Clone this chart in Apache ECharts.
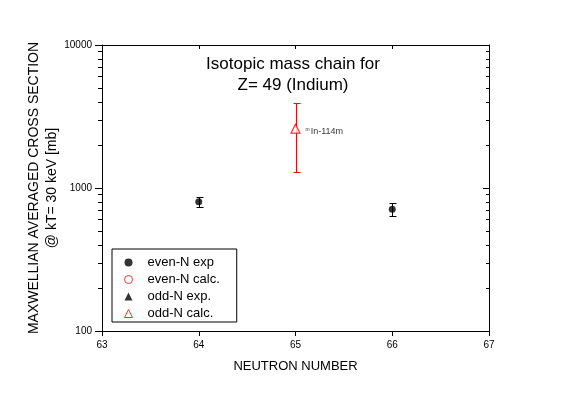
<!DOCTYPE html>
<html>
<head>
<meta charset="utf-8">
<script src="https://cdn.jsdelivr.net/npm/echarts@6/dist/echarts.min.js"></script>
<style>html,body{margin:0;padding:0;background:#fff}#c{width:567px;height:395px}</style>
</head>
<body>
<div id="c"></div>
<script>
// ---- data ----
const titleLines = ['Isotopic mass chain for', 'Z= 49 (Indium)'];
const xTitle = 'NEUTRON NUMBER';
const yTitleLines = ['MAXWELLIAN AVERAGED CROSS SECTION', '@ kT= 30 keV [mb]'];
const legendNames = ['even-N exp', 'even-N calc.', 'odd-N exp.', 'odd-N calc.'];
const evenExpN = [64, 66];
const evenExpVal = [800, 710];
const evenExpErr = [65, 72];
const evenCalcN = [];
const evenCalcVal = [];
const oddExpN = [];
const oddExpVal = [];
const oddCalcN = [65];
const oddCalcVal = [2600];
const oddCalcErr = [1300];
const oddCalcNote = ['In-114m'];
const xTicks = [63, 64, 65, 66, 67];
const yMajor = [100, 1000, 10000];
const yMinor = [200,300,400,500,600,700,800,900,2000,3000,4000,5000,6000,7000,8000,9000];

const FONT = 'Liberation Sans, Arial, sans-serif';
const pts = (xs, ys) => xs.map((x, i) => [x, ys[i]]);
const errs = (xs, ys, es) => xs.map((x, i) => [x, ys[i] - es[i], ys[i] + es[i]]);
const lg = (arr) => arr.map((v) => Math.log10(v));

function errRender(color) {
  return function (params, api) {
    const x = api.value(0);
    const lo = api.coord([x, api.value(1)]);
    const hi = api.coord([x, api.value(2)]);
    const cx = Math.round(lo[0]) + 0.5;
    const yl = Math.round(lo[1]) + 0.5;
    const yh = Math.round(hi[1]) + 0.5;
    const w = 3;
    const st = {stroke: color, lineWidth: 1};
    return {type: 'group', children: [
      {type: 'line', shape: {x1: cx, y1: yl, x2: cx, y2: yh}, style: st},
      {type: 'line', shape: {x1: cx - w, y1: yl, x2: cx + w + 1, y2: yl}, style: st},
      {type: 'line', shape: {x1: cx - w, y1: yh, x2: cx + w + 1, y2: yh}, style: st}
    ]};
  };
}

const chart = echarts.init(document.getElementById('c'), null, {renderer: 'canvas'});
const axisLine = {show: true, lineStyle: {color: '#000', width: 1}};
const yBase = {type: 'log', logBase: 10, min: 100, max: 10000, splitLine: {show: false}};
const yDeco = {type: 'value', min: 2, max: 4, splitLine: {show: false}, axisLabel: {show: false}, axisLine: {show: false}};
chart.setOption({
  animation: false,
  backgroundColor: '#fff',
  textStyle: {fontFamily: FONT},
  title: {
    text: titleLines.join('\n'),
    left: 293, top: 54, textAlign: 'center', padding: 0,
    textStyle: {fontFamily: FONT, fontSize: 17, fontWeight: 'normal', color: '#000', lineHeight: 21}
  },
  legend: {
    orient: 'vertical', left: 112, top: 249,
    padding: [7, 17, 2, 12],
    borderColor: '#000', borderWidth: 1, borderRadius: 0,
    itemWidth: 8, itemHeight: 8, itemGap: 4,
    textStyle: {fontFamily: FONT, fontSize: 13, color: '#000', lineHeight: 13, padding: [0, 0, 0, 10]},
    data: [
      {name: legendNames[0], icon: 'circle', itemStyle: {color: '#000', borderWidth: 0}},
      {name: legendNames[1], icon: 'circle', itemStyle: {color: '#fff', borderColor: '#f00', borderWidth: 1}},
      {name: legendNames[2], icon: 'triangle', itemStyle: {color: '#000', borderWidth: 0}},
      {name: legendNames[3], icon: 'triangle', itemStyle: {color: '#fff', borderColor: '#f00', borderWidth: 1}}
    ]
  },
  grid: {left: 102, right: 78, top: 45, bottom: 64, containLabel: false},
  xAxis: [{
    type: 'value', min: 63, max: 67, interval: 1, position: 'bottom',
    axisLine: axisLine,
    axisTick: {show: true, inside: false, length: 5, lineStyle: {color: '#000'}},
    axisLabel: {show: true, margin: 9, fontFamily: FONT, fontSize: 10, color: '#000'},
    splitLine: {show: false},
    name: xTitle, nameLocation: 'middle', nameGap: 29, nameMoveOverlap: false,
    nameTextStyle: {fontFamily: FONT, fontSize: 13, color: '#000', verticalAlign: 'top'}
  }, {
    type: 'value', min: 63, max: 67, interval: 1, position: 'top',
    axisLine: axisLine,
    axisTick: {show: true, inside: true, length: 4, lineStyle: {color: '#000'}},
    axisLabel: {show: false}, splitLine: {show: false}
  }],
  yAxis: [
    Object.assign({}, yBase, {
      position: 'left',
      axisLine: axisLine,
      axisTick: {show: true, inside: false, length: 7, lineStyle: {color: '#000'}},
      axisLabel: {show: true, margin: 10, fontFamily: FONT, fontSize: 10, color: '#000',
        formatter: (v) => String(Math.round(v))},
      name: yTitleLines.join('\n'), nameLocation: 'middle', nameRotate: 90, nameGap: 41, nameMoveOverlap: false,
      nameTextStyle: {fontFamily: FONT, fontSize: 14, color: '#000', lineHeight: 18}
    }),
    Object.assign({}, yDeco, {
      position: 'left',
      axisTick: {show: true, inside: false, length: 4, customValues: lg(yMinor), lineStyle: {color: '#000'}}
    }),
    Object.assign({}, yBase, {
      position: 'right',
      axisLine: axisLine,
      axisTick: {show: true, inside: true, length: 6, lineStyle: {color: '#000'}},
      axisLabel: {show: false}
    }),
    Object.assign({}, yDeco, {
      position: 'right',
      axisTick: {show: true, inside: true, length: 3, customValues: lg(yMinor), lineStyle: {color: '#000'}}
    })
  ],
  series: [
    {name: 'even-exp-err', type: 'custom', renderItem: errRender('#000'), data: errs(evenExpN, evenExpVal, evenExpErr), z: 2, silent: true},
    {name: 'odd-calc-err', type: 'custom', renderItem: errRender('#f00'), data: errs(oddCalcN, oddCalcVal, oddCalcErr), z: 2, silent: true},
    {name: legendNames[0], type: 'scatter', symbol: 'circle', symbolSize: 7,
      itemStyle: {color: '#000'}, data: pts(evenExpN, evenExpVal), z: 3},
    {name: legendNames[1], type: 'scatter', symbol: 'circle', symbolSize: 7,
      itemStyle: {color: '#fff', borderColor: '#f00', borderWidth: 1}, data: pts(evenCalcN, evenCalcVal), z: 3},
    {name: legendNames[2], type: 'scatter', symbol: 'triangle', symbolSize: 8,
      itemStyle: {color: '#000'}, data: pts(oddExpN, oddExpVal), z: 3},
    {name: legendNames[3], type: 'scatter', symbol: 'triangle', symbolSize: 9,
      itemStyle: {color: '#fff', borderColor: '#f00', borderWidth: 1.2}, data: pts(oddCalcN, oddCalcVal), z: 3,
      label: {show: true, position: 'right', distance: 5, offset: [0, 3],
        formatter: (p) => '{s|m}{t|' + oddCalcNote[p.dataIndex] + '}',
        rich: {s: {fontSize: 5, color: '#000', verticalAlign: 'top', padding: [0, 1, 4, 0]},
               t: {fontSize: 9, color: '#000', fontFamily: FONT}}}}
  ]
});
</script>
</body>
</html>
